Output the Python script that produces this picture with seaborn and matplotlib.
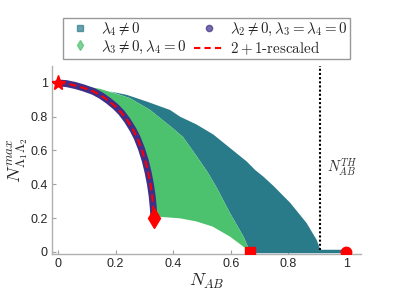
import numpy as np
import pandas as pd
import matplotlib
matplotlib.use('Agg')
import matplotlib.pyplot as plt
from matplotlib.lines import Line2D
import seaborn as sns

# curve of the 2+1 case (lambda2 != 0, lambda3 = lambda4 = 0)
curve_x = [0.0, 0.03, 0.06, 0.09, 0.123, 0.15, 0.175, 0.2, 0.22, 0.24, 0.26, 0.275,
           0.29, 0.303, 0.313, 0.321, 0.327, 0.331, 0.333]
curve_y = [1.0, 0.996, 0.985, 0.97, 0.95, 0.925, 0.895, 0.86, 0.825, 0.78, 0.725, 0.675,
           0.61, 0.54, 0.47, 0.40, 0.33, 0.26, 0.2]

# lambda3 != 0, lambda4 = 0 region outline
green_top_x = [0.06, 0.146, 0.204, 0.25]
green_top_y = [0.99, 0.965, 0.935, 0.91]
green_right_x = [0.32, 0.40, 0.434, 0.48, 0.52, 0.551, 0.597, 0.644, 0.667]
green_right_y = [0.84, 0.73, 0.68, 0.57, 0.47, 0.38, 0.23, 0.09, 0.0]
green_bottom_x = [0.644, 0.597, 0.536, 0.48, 0.424, 0.348, 0.333]
green_bottom_y = [0.03, 0.09, 0.15, 0.18, 0.198, 0.208, 0.2]

# lambda4 != 0 region outline
teal_top_x = [0.18, 0.238, 0.308, 0.389, 0.424, 0.48, 0.539, 0.597, 0.655, 0.684,
              0.713, 0.748, 0.806, 0.863, 0.898, 0.91]
teal_top_y = [0.95, 0.93, 0.89, 0.84, 0.80, 0.755, 0.695, 0.615, 0.535, 0.485,
              0.445, 0.39, 0.29, 0.17, 0.07, 0.014]
floor_x = [0.667, 1.0]
floor_y = [0.005, 0.005]

n_th = 0.91

# special points
pts_x = [0.0, 0.333, 0.667, 1.0]
pts_y = [1.0, 0.2, 0.0, 0.0]
pts_m = ['*', 'd', 's', 'o']
pts_s = [11, 10, 6.5, 7.5]

teal = '#2a7b8a'
green = '#4cc16e'
purple = '#3f2f88'

sns.set_theme(style='white')
plt.rcParams['font.family'] = ['Liberation Sans', 'DejaVu Sans']
plt.rcParams['mathtext.fontset'] = 'cm'

fig = plt.figure(figsize=(3.99, 2.99), dpi=100)
ax = fig.add_axes([0.130, 0.150, 0.775, 0.629])

tx = teal_top_x + [0.91, 0.667] + green_right_x[::-1] + [0.25]
ty = teal_top_y + [0.005, 0.005] + green_right_y[::-1] + [0.91]
ax.fill(tx, ty, color=teal, lw=0)

gx = green_top_x + green_right_x + green_bottom_x + curve_x[::-1][1:]
gy = green_top_y + green_right_y + green_bottom_y + curve_y[::-1][1:]
ax.fill(gx, gy, color=green, lw=0)

ax.plot(floor_x, floor_y, color=teal, lw=2.5, solid_capstyle='butt')

curve = pd.DataFrame({'x': curve_x, 'y': curve_y})
sns.lineplot(data=curve, x='x', y='y', sort=False, color=purple, lw=5, ax=ax)
sns.lineplot(data=curve, x='x', y='y', sort=False, color='red', lw=1.5,
             linestyle=(0, (3.5, 2)), ax=ax)

ax.vlines(n_th, 0.012, 1.1, colors='black', linestyles=(0, (1, 1)), lw=1.5)
ax.text(n_th + 0.025, 0.5, r'$N_{AB}^{TH}$', fontsize=10.5, color='#333333',
        ha='left', va='center')

for x, y, m, s in zip(pts_x, pts_y, pts_m, pts_s):
    ax.plot(x, y, marker=m, markersize=s, color='red', ls='none', zorder=5)

ax.set_xlim(-0.021, 1.052)
ax.set_ylim(-0.014, 1.1)
ax.set_xticks([0, 0.2, 0.4, 0.6, 0.8, 1])
ax.set_xticklabels(['0', '0.2', '0.4', '0.6', '0.8', '1'])
ax.set_yticks([0, 0.2, 0.4, 0.6, 0.8, 1])
ax.set_yticklabels(['0', '0.2', '0.4', '0.6', '0.8', '1'])
ax.tick_params(direction='in', length=3, width=0.8, color='#a0a0a0',
               labelsize=9, labelcolor='#262626', left=True, bottom=True, pad=3)
for side in ['top', 'right']:
    ax.spines[side].set_visible(False)
for side in ['left', 'bottom']:
    ax.spines[side].set_color('#b0b0b0')
    ax.spines[side].set_linewidth(1.0)

ax.set_xlabel(r'$N_{AB}$', fontsize=13, labelpad=1)
ax.set_ylabel(r'$N^{max}_{\Lambda_1\Lambda_2}$', fontsize=13.5, labelpad=0)

handles = [
    Line2D([], [], marker='s', color=teal, alpha=0.7, ls='none', markersize=4),
    Line2D([], [], marker='d', color=green, alpha=0.7, ls='none', markersize=5),
    Line2D([], [], marker='o', color=purple, alpha=0.7, ls='none', markersize=4.5),
    Line2D([], [], color='red', ls=(0, (3, 2)), lw=1.5),
]
labels = [r'$\lambda_4 \neq 0$', r'$\lambda_3 \neq 0, \lambda_4 = 0$',
          r'$\lambda_2 \neq 0, \lambda_3 = \lambda_4 = 0$', r'$2 + 1\text{-rescaled}$']
fig.legend(handles, labels, ncol=2, loc='lower center', bbox_to_anchor=(0.5175, 0.803),
           fontsize=10.8, frameon=True, fancybox=False, edgecolor='#999999',
           framealpha=1, borderpad=0.15, handlelength=2, handletextpad=0.4,
           columnspacing=0.5, labelspacing=0.05, borderaxespad=0)

fig.savefig('out.png', dpi=100)
